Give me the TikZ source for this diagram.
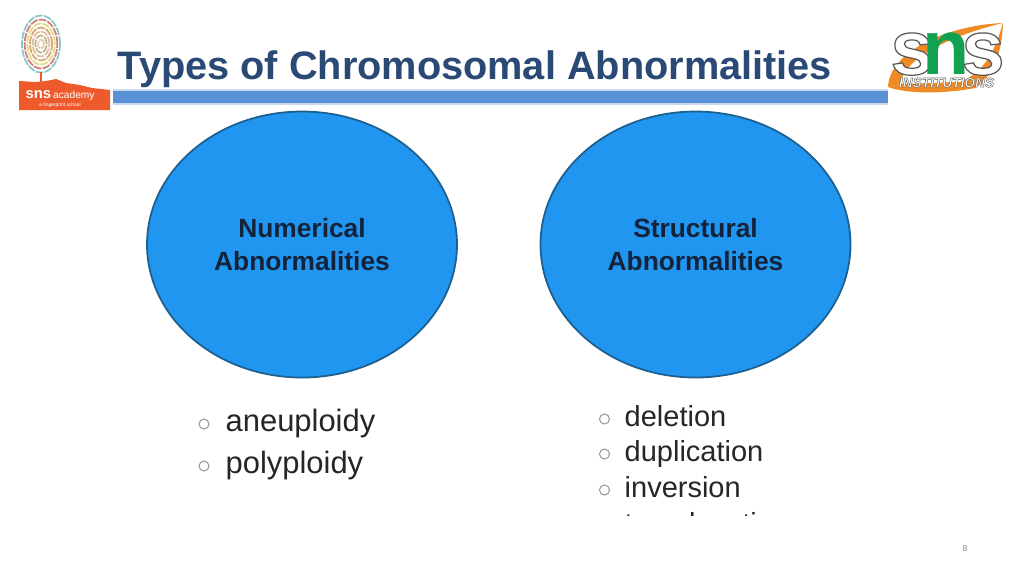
\documentclass[tikz,border=0pt]{standalone}
\usepackage{fontspec}
\setmainfont{Liberation Sans}
\usepackage{tikz}
\usetikzlibrary{calc,shapes.geometric}
\definecolor{titleblue}{HTML}{2A4A75}
\definecolor{barblue}{HTML}{5A90D6}
\definecolor{barlight}{HTML}{C9D9EE}
\definecolor{blobblue}{HTML}{2196F0}
\definecolor{blobline}{HTML}{1D5F8E}
\definecolor{labelnavy}{HTML}{14233A}
\definecolor{itemgrey}{HTML}{262626}
\definecolor{bulletgrey}{HTML}{9A9A9A}
\definecolor{snsorange}{HTML}{EE5A2C}
\definecolor{swoosh}{HTML}{F08A24}
\definecolor{snsgreen}{HTML}{12A150}
\newcommand{\outlined}[2]{{\special{pdf:code 2 Tr #1 w 0.35 0.35 0.35 RG}#2\special{pdf:code 0 Tr}}}
\tikzset{
  blob/.style={ellipse,draw=blobline,line width=0.5pt,fill=blobblue,minimum width=3.1cm,minimum height=2.66cm,inner sep=0pt,align=center,text=labelnavy,font=\fontsize{7.5pt}{9.2pt}\selectfont\bfseries},
  bulletmark/.style={circle,draw=bulletgrey,line width=0.3pt,fill=white,minimum size=0.1cm,inner sep=0pt},
  item/.style={draw=none,fill=none,anchor=base west,inner sep=0pt,text=itemgrey},
  ridge/.style={line width=0.5pt,dash pattern=on 2.2pt off 0.35pt},
}
\begin{document}
\begin{tikzpicture}
  \useasboundingbox (0,0) rectangle (10.24,-5.76);
  \fill[white] (0,0) rectangle (10.24,-5.76);

  % Title and bar
  \node[draw=none,fill=none,anchor=base west,inner sep=0pt,text=titleblue,font=\fontsize{11.3pt}{13pt}\selectfont\bfseries] (title) at (1.17,-0.79) {Types of Chromosomal Abnormalities};
  \fill[barlight] (1.13,-0.89) rectangle (8.88,-1.05);
  \fill[barblue] (1.13,-0.91) rectangle (8.88,-1.03);

  % Left logo
  \foreach \r/\c in {1/teal!45,0.86/red!45!gray!70,0.72/yellow!60!gray!70,0.58/orange!55!gray!70,0.44/brown!50,0.3/teal!40!orange!60,0.16/brown!40}{
    \draw[\c,ridge] (0.41,-0.44) ellipse ({0.19*\r} and {0.285*\r});
  }
  \draw[snsorange,line width=0.8pt] (0.41,-0.72) -- (0.41,-0.84);
  \fill[snsorange] (0.19,-1.10) -- (0.19,-0.81) -- (0.36,-0.82) -- (0.46,-0.81) -- (0.56,-0.79) -- (0.66,-0.83) -- (0.80,-0.85) -- (0.92,-0.88) -- (1.10,-0.90) -- (1.10,-1.10) -- cycle;
  \node[draw=none,fill=none,anchor=base west,inner sep=0pt,text=white,font=\fontsize{4.2pt}{5pt}\selectfont\bfseries] (snsleft) at (0.25,-0.985) {sns};
  \node[draw=none,fill=none,anchor=base west,inner sep=0pt,text=white,font=\fontsize{2.9pt}{4pt}\selectfont] (academy) at (0.525,-0.985) {academy};
  \node[draw=none,fill=none,inner sep=0pt,text=white,font=\fontsize{1.4pt}{2pt}\selectfont] (school) at (0.6,-1.055) {a fingerprint school};

  % Right logo
  \fill[swoosh] (8.88,-0.87) .. controls (8.90,-0.50) and (9.50,-0.25) .. (10.03,-0.23) .. controls (9.60,-0.33) and (9.05,-0.55) .. (9.00,-0.84) -- cycle;
  \fill[swoosh] (8.88,-0.87) .. controls (9.10,-0.95) and (9.50,-0.93) .. (9.75,-0.88) .. controls (9.95,-0.75) and (10.02,-0.50) .. (10.03,-0.23) .. controls (9.95,-0.50) and (9.85,-0.72) .. (9.60,-0.82) -- (9.00,-0.84) -- cycle;
  \node[draw=none,fill=none,inner sep=0pt,anchor=base,text=white,font=\fontsize{22pt}{22pt}\selectfont\bfseries] (sone) at (9.12,-0.745) {\outlined{0.35}{s}};
  \node[draw=none,fill=none,inner sep=0pt,anchor=base,text=snsgreen,font=\fontsize{22pt}{22pt}\selectfont\bfseries] (nmid) at (9.46,-0.745) {n};
  \node[draw=none,fill=none,inner sep=0pt,anchor=base,text=white,font=\fontsize{22pt}{22pt}\selectfont\bfseries] (stwo) at (9.83,-0.745) {\outlined{0.35}{s}};
  \node[draw=none,fill=none,inner sep=0pt,text=white,font=\fontsize{3.9pt}{5pt}\selectfont\bfseries\itshape] (institutions) at (9.465,-0.825) {\outlined{0.12}{INSTITUTIONS}};

  % Blue circles
  \node[blob] (numerical) at (3.02,-2.445) {Numerical\\Abnormalities};
  \node[blob] (structural) at (6.955,-2.445) {Structural\\Abnormalities};

  % Numerical items
  \node[bulletmark] (bulletaneu) at ($(numerical)+(-0.98,-1.795)$) {};
  \node[item,font=\fontsize{8.8pt}{10pt}\selectfont] (aneu) at ($(numerical)+(-0.77,-1.865)$) {aneuploidy};
  \node[bulletmark] (bulletpoly) at ($(numerical)+(-0.98,-2.215)$) {};
  \node[item,font=\fontsize{8.8pt}{10pt}\selectfont] (poly) at ($(numerical)+(-0.77,-2.285)$) {polyploidy};

  % Structural items
  \node[bulletmark] (bulletdel) at ($(structural)+(-0.91,-1.745)$) {};
  \node[item,font=\fontsize{8.25pt}{10pt}\selectfont] (del) at ($(structural)+(-0.715,-1.815)$) {deletion};
  \node[bulletmark] (bulletdup) at ($(structural)+(-0.91,-2.095)$) {};
  \node[item,font=\fontsize{8.25pt}{10pt}\selectfont] (dup) at ($(structural)+(-0.715,-2.165)$) {duplication};
  \node[bulletmark] (bulletinv) at ($(structural)+(-0.91,-2.455)$) {};
  \node[item,font=\fontsize{8.25pt}{10pt}\selectfont] (inv) at ($(structural)+(-0.715,-2.525)$) {inversion};
  \begin{scope}
    \clip (5.9,-4.9) rectangle (8.2,-5.155);
    \node[item,font=\fontsize{8.25pt}{10pt}\selectfont] (trans) at ($(structural)+(-0.715,-2.885)$) {translocation};
  \end{scope}

  % Page number
  \node[draw=none,fill=none,inner sep=0pt,text=gray,font=\fontsize{2.4pt}{3pt}\selectfont] (pagenum) at (9.65,-5.49) {8};
\end{tikzpicture}
\end{document}
